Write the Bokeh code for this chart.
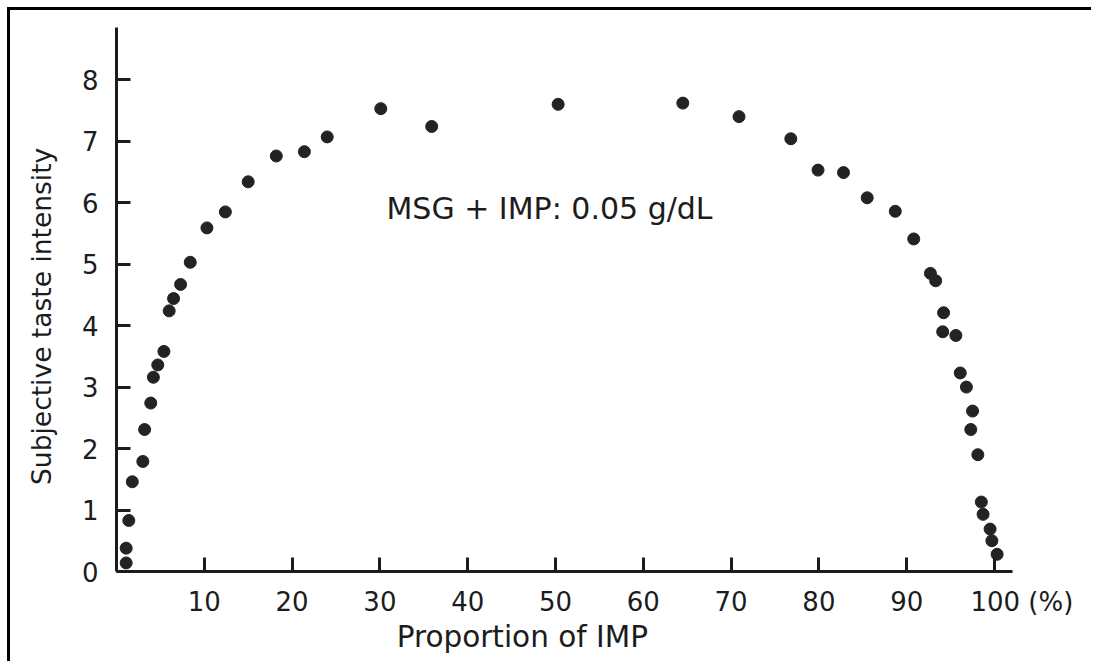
from bokeh.plotting import figure
from bokeh.models import FixedTicker, Label, Range1d
from bokeh.embed import file_html
from bokeh.resources import INLINE

# Data: proportion of IMP (%) vs. subjective taste intensity
imp_pct = [1.1, 1.1, 1.4, 1.8, 3.0, 3.2, 3.9, 4.2, 4.7, 5.4, 6.0, 6.5, 7.3, 8.4,
           10.3, 12.4, 15.0, 18.2, 21.4, 24.0, 30.1, 35.9, 50.3, 64.5, 70.9, 76.8,
           79.9, 82.8, 85.5, 88.7, 90.8, 92.7, 93.3, 94.1, 94.2, 95.6, 96.1, 96.8,
           97.3, 97.5, 98.1, 98.5, 98.7, 99.5, 99.7, 100.3]
taste = [0.14, 0.38, 0.83, 1.46, 1.79, 2.31, 2.74, 3.16, 3.36, 3.58, 4.24, 4.44, 4.67, 5.03,
         5.59, 5.85, 6.34, 6.76, 6.83, 7.07, 7.53, 7.24, 7.60, 7.62, 7.40, 7.04,
         6.53, 6.49, 6.08, 5.86, 5.41, 4.85, 4.73, 3.90, 4.21, 3.84, 3.23, 3.00,
         2.31, 2.61, 1.90, 1.13, 0.93, 0.69, 0.50, 0.28]

x_ticks = [10, 20, 30, 40, 50, 60, 70, 80, 90, 100]
y_ticks = [0, 1, 2, 3, 4, 5, 6, 7, 8]
x_title = "Proportion of IMP"
y_title = "Subjective taste intensity"
note_text = "MSG + IMP: 0.05 g/dL"
unit_text = "(%)"

FONT = "DejaVu Sans"
INK = "#1c1c1c"
NBSP = "\u00a0"

p = figure(width=1084, height=654, output_backend="svg", toolbar_location=None,
           x_range=Range1d(0, 102.05), y_range=Range1d(0, 8.85),
           min_border_left=106, min_border_right=82, min_border_top=17, min_border_bottom=93,
           styles={"margin-left": "7px", "margin-top": "7px",
                   "border-top": "3px solid #000", "border-left": "3px solid #000"})

p.grid.visible = False
p.outline_line_color = None
p.background_fill_color = "white"
p.border_fill_color = "white"

for ax in (p.xaxis[0], p.yaxis[0]):
    ax.axis_line_width = 3
    ax.axis_line_color = INK
    ax.major_tick_in = 14
    ax.major_tick_out = 0
    ax.major_tick_line_width = 3
    ax.major_tick_line_color = INK
    ax.minor_tick_line_color = None
    ax.major_label_text_font = FONT
    ax.major_label_text_color = INK
    ax.major_label_text_font_size = "26px"
    ax.axis_label_text_font = FONT
    ax.axis_label_text_color = INK
    ax.axis_label_text_font_style = "normal"

p.xaxis.ticker = FixedTicker(ticks=x_ticks)
p.yaxis.ticker = FixedTicker(ticks=y_ticks)
# last tick carries the unit; figure spaces on the left keep "100" centred on its tick
p.xaxis.major_label_overrides = {100: "\u2007\u2007\u2007\u2009100" + NBSP + unit_text}
# trailing no-break spaces move the (centred) titles to where the original prints them
p.xaxis.axis_label = x_title + NBSP * 9
p.yaxis.axis_label = y_title + NBSP * 4
p.xaxis.major_label_standoff = 15
p.xaxis.axis_label_standoff = 0
p.xaxis.axis_label_text_font_size = "29.5px"
p.yaxis.major_label_standoff = 18
p.yaxis.axis_label_standoff = 22
p.yaxis.axis_label_text_font_size = "26.5px"

p.scatter(imp_pct, taste, marker="circle", size=12, fill_color="#232323",
          line_color="#232323", line_width=1)

note = Label(x=30.75, y=5.90, text=note_text, text_align="left",
             text_baseline="alphabetic", text_font=FONT, text_font_size="30px",
             text_color=INK)
p.add_layout(note)

open("out.html", "w").write(file_html(p, INLINE))
